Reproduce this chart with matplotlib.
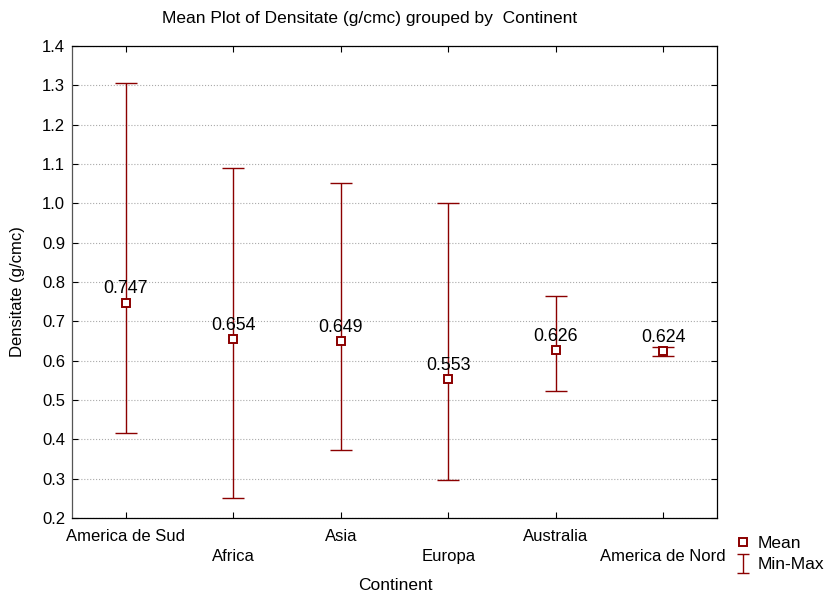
import matplotlib
matplotlib.use("Agg")
import matplotlib.pyplot as plt
from matplotlib.lines import Line2D
from matplotlib.path import Path

plt.rcParams['font.family'] = ['Liberation Sans', 'DejaVu Sans']

continents = ["America de Sud", "Africa", "Asia", "Europa", "Australia", "America de Nord"]
means = [0.747, 0.654, 0.649, 0.553, 0.626, 0.624]
mins = [0.416, 0.251, 0.373, 0.297, 0.522, 0.612]
maxs = [1.306, 1.091, 1.051, 1.000, 0.765, 0.636]
yticks = [0.2, 0.3, 0.4, 0.5, 0.6, 0.7, 0.8, 0.9, 1.0, 1.1, 1.2, 1.3, 1.4]

red = "#8b0000"
px = 72 / 100  # points per pixel at 100 dpi

fig = plt.figure(figsize=(8.28, 5.93), dpi=100)
ax = fig.add_axes([0.087, 0.1265, 0.779, 0.7959])

x = list(range(len(continents)))
lower = [m - lo for m, lo in zip(means, mins)]
upper = [hi - m for m, hi in zip(means, maxs)]
ax.errorbar(x, means, yerr=[lower, upper], fmt='none', ecolor=red,
            elinewidth=1.0, capsize=11 * px, capthick=1.0, zorder=3)
ax.plot(x, means, linestyle='none', marker='s', markersize=7.5 * px,
        markerfacecolor='white', markeredgecolor=red, markeredgewidth=1.4, zorder=4)

for xi, m in zip(x, means):
    ax.annotate(f"{m:.3f}", (xi, m), xytext=(0, 14 * px), textcoords='offset points',
                ha='center', va='center', fontsize=12.8, color='black', zorder=5)

ax.set_xlim(-0.5, len(continents) - 0.5)
ax.set_ylim(0.2, 1.4)
ax.set_yticks(yticks)
ax.set_yticklabels([f"{v:.1f}" for v in yticks], fontsize=12)
ax.set_xticks(x)
ax.set_xticklabels([])
for xi, name in zip(x, continents):
    off = -19 if xi % 2 == 0 else -39
    ax.annotate(name, (xi, 0.2), xytext=(0, off * px), textcoords='offset points',
                ha='center', va='center', fontsize=12, annotation_clip=False)

ax.tick_params(axis='both', direction='in', length=4, width=0.8,
               top=True, right=True, pad=5)
ax.grid(axis='y', linestyle=':', color='#aaaaaa', linewidth=0.8)
for s in ax.spines.values():
    s.set_linewidth(0.9)
ax.spines['left'].set_color('#555555')

fig.text(18 / 828, 1 - 292 / 593, "Densitate (g/cmc)", rotation=90,
         ha='center', va='center', fontsize=12)
fig.text(395 / 828, 1 - 586 / 593, "Continent", ha='center', va='center', fontsize=12.5)
fig.text(370 / 828, 1 - 19 / 593, "Mean Plot of Densitate (g/cmc) grouped by  Continent",
         ha='center', va='center', fontsize=12.5)

# legend: hollow square for the mean, I-beam for the min-max range
ibeam = Path([(-0.63, -1), (0.63, -1), (0, -1), (0, 1), (-0.63, 1), (0.63, 1)],
             [Path.MOVETO, Path.LINETO, Path.MOVETO, Path.LINETO, Path.MOVETO, Path.LINETO])
h_mean = Line2D([], [], linestyle='none', marker='s', markersize=7.5 * px,
                markerfacecolor='white', markeredgecolor=red, markeredgewidth=1.4)
h_range = Line2D([], [], linestyle='none', marker=ibeam, markersize=19 * px,
                 markerfacecolor='none', markeredgecolor=red, markeredgewidth=1.0)
fig.legend([h_mean, h_range], ["Mean", "Min-Max"], loc='center left',
           bbox_to_anchor=(733 / 828, 1 - 554 / 593), frameon=False, fontsize=12.5,
           handlelength=1.1, handletextpad=0.3, labelspacing=0.35,
           borderpad=0, borderaxespad=0)

fig.savefig("out.png", dpi=100)
